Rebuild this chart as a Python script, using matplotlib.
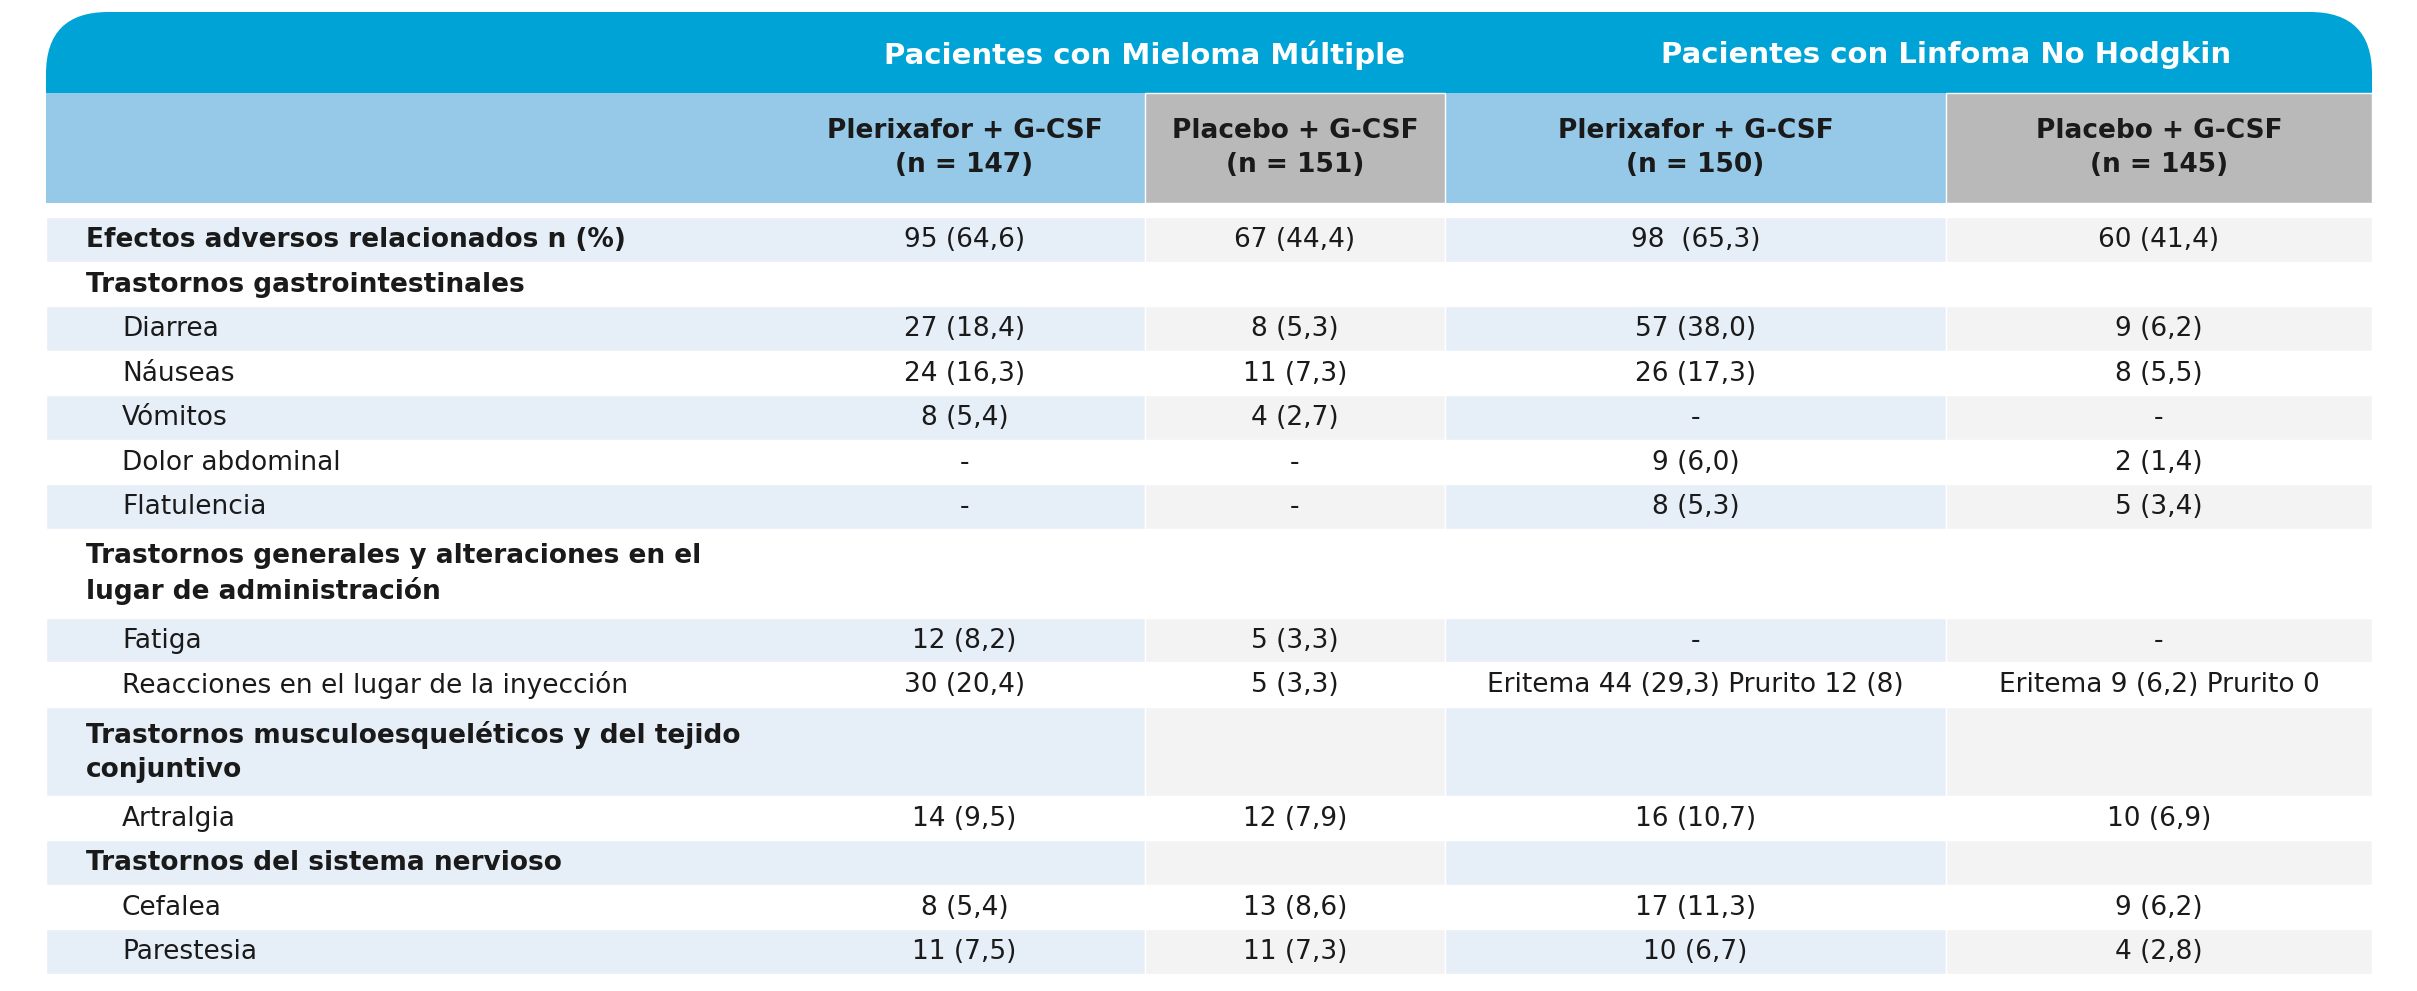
import matplotlib.pyplot as plt
from matplotlib.patches import Rectangle, FancyBboxPatch
from matplotlib import font_manager

names = {f.name for f in font_manager.fontManager.ttflist}
FONT = "Liberation Sans Narrow" if "Liberation Sans Narrow" in names else "DejaVu Sans"
plt.rcParams["font.family"] = FONT

# Data
groups = ["Pacientes con Mieloma Múltiple", "Pacientes con Linfoma No Hodgkin"]
col_headers = ["Plerixafor + G-CSF\n(n = 147)", "Placebo + G-CSF\n(n = 151)",
               "Plerixafor + G-CSF\n(n = 150)", "Placebo + G-CSF\n(n = 145)"]
row_labels = [
    "Efectos adversos relacionados n (%)",
    "Trastornos gastrointestinales",
    "Diarrea", "Náuseas", "Vómitos", "Dolor abdominal", "Flatulencia",
    "Trastornos generales y alteraciones en el\nlugar de administración",
    "Fatiga", "Reacciones en el lugar de la inyección",
    "Trastornos musculoesqueléticos y del tejido\nconjuntivo",
    "Artralgia",
    "Trastornos del sistema nervioso",
    "Cefalea", "Parestesia",
]
is_section = [True, True, False, False, False, False, False, True, False, False,
              True, False, True, False, False]
mm_plerixafor = ["95 (64,6)", "", "27 (18,4)", "24 (16,3)", "8 (5,4)", "-", "-", "",
                 "12 (8,2)", "30 (20,4)", "", "14 (9,5)", "", "8 (5,4)", "11 (7,5)"]
mm_placebo = ["67 (44,4)", "", "8 (5,3)", "11 (7,3)", "4 (2,7)", "-", "-", "",
              "5 (3,3)", "5 (3,3)", "", "12 (7,9)", "", "13 (8,6)", "11 (7,3)"]
nhl_plerixafor = ["98  (65,3)", "", "57 (38,0)", "26 (17,3)", "-", "9 (6,0)", "8 (5,3)", "",
                  "-", "Eritema 44 (29,3) Prurito 12 (8)", "", "16 (10,7)", "",
                  "17 (11,3)", "10 (6,7)"]
nhl_placebo = ["60 (41,4)", "", "9 (6,2)", "8 (5,5)", "-", "2 (1,4)", "5 (3,4)", "",
               "-", "Eritema 9 (6,2) Prurito 0", "", "10 (6,9)", "", "9 (6,2)", "4 (2,8)"]
shaded = [True, False, True, False, True, False, True, False, True, False,
          True, False, True, False, True]
columns = [mm_plerixafor, mm_placebo, nhl_plerixafor, nhl_placebo]

W, H = 2417, 991
fig = plt.figure(figsize=(W / 100, H / 100), dpi=100)
ax = fig.add_axes([0, 0, 1, 1])
ax.set_xlim(0, W)
ax.set_ylim(H, 0)
ax.axis("off")

LEFT, RIGHT = 46, 2372
col_edges = [784, 1145, 1445, 1946, 2372]
BLUE = "#00A3D6"
HDR_BLUE = "#96C8E8"
HDR_GREY = "#B9B9BA"
ROW_BLUE = "#E6EEF8"
ROW_GREY = "#F3F3F3"
TXT = "#1a1a1a"
FS = 19

# top rounded header band
ax.add_patch(FancyBboxPatch((LEFT, 12), RIGHT - LEFT, 140, boxstyle="round,pad=0,rounding_size=62",
                            fc=BLUE, ec="none", mutation_aspect=1))
ax.add_patch(Rectangle((LEFT, 93), RIGHT - LEFT, 110, fc=HDR_BLUE, ec="none"))
for i, grp in enumerate(groups):
    cx = col_edges[1] if i == 0 else col_edges[3]
    ax.text(cx, 55, grp, color="white", fontsize=21, fontweight="bold", ha="center", va="center")

# column header cells
for j, hdr in enumerate(col_headers):
    x0, x1 = col_edges[j], col_edges[j + 1]
    fc = HDR_GREY if j % 2 == 1 else HDR_BLUE
    if j % 2 == 1:
        ax.add_patch(Rectangle((x0, 93), x1 - x0, 110, fc=fc, ec="white", lw=1))
    ax.text((x0 + x1) / 2, 148, hdr, fontsize=FS, fontweight="bold", color=TXT,
            ha="center", va="center", linespacing=1.35)

# body rows
LINE_H = 44.5
y = 217
for r, label in enumerate(row_labels):
    h = LINE_H * (label.count("\n") + 1)
    if shaded[r]:
        for j in range(4):
            x0 = LEFT if j == 0 else col_edges[j]
            x1 = col_edges[j + 1]
            ax.add_patch(Rectangle((x0, y), x1 - x0, h, fc=ROW_BLUE if j % 2 == 0 else ROW_GREY,
                                   ec="white", lw=1))
    cy = y + h / 2 + 1
    if is_section[r]:
        ax.text(86, cy, label, fontsize=FS, fontweight="bold", color=TXT, ha="left", va="center",
                linespacing=1.4)
    else:
        ax.text(122, cy, label, fontsize=FS, color=TXT, ha="left", va="center")
    for j, col in enumerate(columns):
        if col[r]:
            ax.text((col_edges[j] + col_edges[j + 1]) / 2, cy, col[r], fontsize=FS, color=TXT,
                    ha="center", va="center")
    y += h

fig.savefig("out.png", dpi=100)
